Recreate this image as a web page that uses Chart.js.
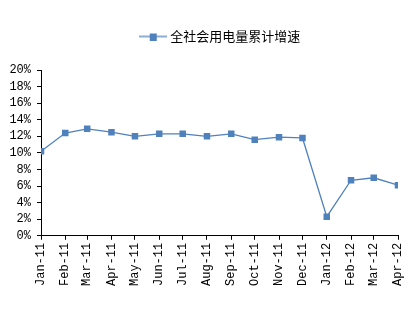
<!DOCTYPE html>
<html>
<head>
<meta charset="utf-8">
<script src="https://cdn.jsdelivr.net/npm/chart.js@4"></script>
<style>
  html, body { margin: 0; padding: 0; background: #fff; }
  #wrap { width: 412px; height: 318px; }
</style>
</head>
<body>
<div id="wrap"><canvas id="chart" width="412" height="318"></canvas></div>
<script>
// 月份 (x轴) と 系列値
const months = ['2011-01', '2011-02', '2011-03', '2011-04', '2011-05', '2011-06', '2011-07', '2011-08',
                '2011-09', '2011-10', '2011-11', '2011-12', '2012-01', '2012-02', '2012-03', '2012-04'];
const monthLabels = ['Jan-11', 'Feb-11', 'Mar-11', 'Apr-11', 'May-11', 'Jun-11', 'Jul-11', 'Aug-11',
                     'Sep-11', 'Oct-11', 'Nov-11', 'Dec-11', 'Jan-12', 'Feb-12', 'Mar-12', 'Apr-12'];
const growth = [10.2, 12.4, 12.9, 12.5, 12.0, 12.3, 12.3, 12.0, 12.3, 11.6, 11.9, 11.8, 2.3, 6.7, 7.0, 6.1];
const seriesName = '全社会用电量累计增速';
const yTicks = [0, 2, 4, 6, 8, 10, 12, 14, 16, 18, 20];

const blue = '#4F81BD';
const monoFont = "'Liberation Mono', 'DejaVu Sans Mono', monospace";

// 日付 -> 経過日数 (日付軸っぽく間隔をあける)
const base = Date.UTC(2011, 0, 1);
const dayOf = function (s) {
    const p = s.split('-');
    return (Date.UTC(+p[0], +p[1] - 1, 1) - base) / 86400000;
};
const xs = months.map(dayOf);
const points = xs.map(function (x, i) { return {x: x, y: growth[i]}; });

// 凡例のマーカー (線 + 四角)
const legendIcon = document.createElement('canvas');
legendIcon.width = 28;
legendIcon.height = 8;
(function () {
    const c = legendIcon.getContext('2d');
    c.strokeStyle = blue;
    c.lineWidth = 1.3;
    c.beginPath();
    c.moveTo(0, 4);
    c.lineTo(28, 4);
    c.stroke();
    c.fillStyle = blue;
    c.fillRect(11, 1, 7, 7);
})();

// 凡例とグラフの間隔、凡例の位置を少し右へ
const legendGap = {
    id: 'legendGap',
    beforeInit: function (chart) {
        const orig = chart.legend.fit;
        chart.legend.fit = function () {
            orig.call(this);
            this.height += 17;
        };
    },
    afterLayout: function (chart) {
        chart.legend.left += 30;
    }
};

const ctx = document.getElementById('chart').getContext('2d');
new Chart(ctx, {
    type: 'line',
    data: {
        datasets: [{
            label: seriesName,
            data: points,
            borderColor: blue,
            backgroundColor: blue,
            borderWidth: 1.3,
            pointStyle: 'rect',
            pointRadius: 4.6,
            pointBorderWidth: 0,
            pointBackgroundColor: blue,
            tension: 0
        }]
    },
    options: {
        responsive: false,
        animation: false,
        layout: {padding: {top: 20, left: 0, right: 0, bottom: 29}},
        plugins: {
            legend: {
                position: 'top',
                labels: {
                    usePointStyle: true,
                    pointStyleWidth: 22,
                    color: '#000',
                    font: {family: "'Noto Sans CJK SC', sans-serif", size: 13},
                    generateLabels: function (chart) {
                        return [{
                            text: seriesName,
                            pointStyle: legendIcon,
                            fillStyle: blue,
                            strokeStyle: blue,
                            lineWidth: 0,
                            datasetIndex: 0
                        }];
                    }
                }
            },
            tooltip: {enabled: false}
        },
        scales: {
            x: {
                type: 'linear',
                min: xs[0],
                max: xs[xs.length - 1],
                afterBuildTicks: function (axis) {
                    axis.ticks = xs.map(function (v) { return {value: v}; });
                },
                afterFit: function (axis) {
                    axis.paddingRight = 14;
                },
                grid: {drawOnChartArea: false, drawTicks: true, tickLength: 4, color: '#000'},
                border: {display: true, color: '#000', width: 1},
                ticks: {
                    autoSkip: false,
                    minRotation: 90,
                    maxRotation: 90,
                    padding: 3,
                    color: '#000',
                    font: {family: monoFont, size: 12},
                    callback: function (v) {
                        const i = xs.indexOf(v);
                        return i >= 0 ? monthLabels[i] : '';
                    }
                }
            },
            y: {
                min: yTicks[0],
                max: yTicks[yTicks.length - 1],
                afterFit: function (axis) {
                    axis.width = 41;
                },
                afterBuildTicks: function (axis) {
                    axis.ticks = yTicks.map(function (v) { return {value: v}; });
                },
                grid: {drawOnChartArea: false, drawTicks: true, tickLength: 4, color: '#000'},
                border: {display: true, color: '#000', width: 1},
                ticks: {
                    autoSkip: false,
                    padding: 6,
                    color: '#000',
                    font: {family: monoFont, size: 12},
                    callback: function (v) { return v + '%'; }
                }
            }
        }
    },
    plugins: [legendGap]
});
</script>
</body>
</html>
